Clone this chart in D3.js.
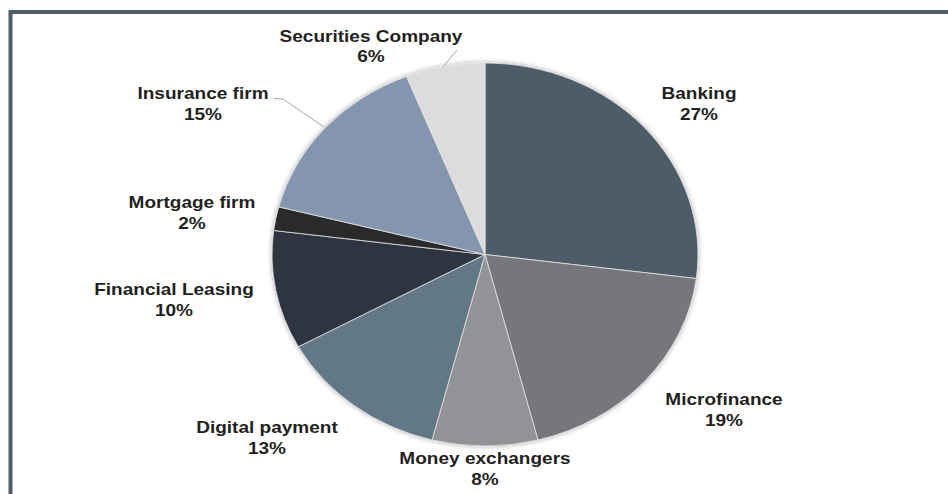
<!DOCTYPE html>
<html>
<head>
<meta charset="utf-8">
<script src="https://cdn.jsdelivr.net/npm/d3@7"></script>
<style>
  html, body { margin: 0; padding: 0; background: #fff; }
  svg { display: block; }
  text { font-family: "Liberation Sans", Arial, sans-serif; font-weight: bold; }
</style>
</head>
<body>
<svg id="chart" width="948" height="494"></svg>
<script>
// Share of fintech activity by sector (percent)
const categories = ["Banking", "Microfinance", "Money exchangers", "Digital payment",
                    "Financial Leasing", "Mortgage firm", "Insurance firm", "Securities Company"];
const values = [27, 19, 8, 13, 10, 2, 15, 6];
const colors = ["#4e5b68", "#76777b", "#929396", "#627886",
                "#2e3640", "#2b2a2b", "#8396ae", "#dcdcdf"];

// Label anchors (centre x, first baseline) in page pixels
const labelPos = [
  [699, 99], [724, 405], [485, 464], [267, 433],
  [174, 295], [192, 208], [203, 99], [371, 41.5]
];
// Leader lines for the two labels that sit away from their slices
const leaders = [
  { index: 7, pts: [[457, 50], [443, 67]] },
  { index: 6, pts: [[274, 98.5], [283, 99], [324, 127]] }
];

const W = 948, H = 494;
const cx = 485, cy = 254.5;
const ry = 191.5, rx = 213;
const sx = rx / ry;

const svg = d3.select("#chart");

// Frame
svg.append("rect")
  .attr("x", 10.5).attr("y", 12)
  .attr("width", W).attr("height", H)
  .attr("fill", "none")
  .attr("stroke", "#4f5b68")
  .attr("stroke-width", 4);

const defs = svg.append("defs");
const f = defs.append("filter").attr("id", "shadow")
  .attr("x", "-10%").attr("y", "-10%").attr("width", "120%").attr("height", "120%");
f.append("feDropShadow")
  .attr("dx", 0).attr("dy", 0)
  .attr("stdDeviation", 2.5)
  .attr("flood-color", "#000")
  .attr("flood-opacity", 0.35);

const pie = d3.pie().sort(null).value(d => d)(values);
const arc = d3.arc().innerRadius(0).outerRadius(ry);

const g = svg.append("g")
  .attr("transform", `translate(${cx},${cy}) scale(${sx},1)`);

g.append("g").attr("filter", "url(#shadow)")
  .selectAll("path")
  .data(pie)
  .join("path")
  .attr("d", arc)
  .attr("fill", (d, i) => colors[i])
  .attr("stroke", "#e4e4e4")
  .attr("stroke-width", 0.8)
  .attr("vector-effect", "non-scaling-stroke");

// Leader lines
const line = d3.line();
svg.selectAll("path.leader")
  .data(leaders)
  .join("path")
  .attr("class", "leader")
  .attr("d", d => line(d.pts))
  .attr("fill", "none")
  .attr("stroke", "#a6a6a6")
  .attr("stroke-width", 1);

// Labels: category name over percentage
const labels = svg.selectAll("g.label")
  .data(pie)
  .join("g")
  .attr("class", "label")
  .attr("transform", (d, i) => `translate(${labelPos[i][0]},${labelPos[i][1]}) scale(1.12,1)`);

const t = labels.append("text")
  .attr("text-anchor", "middle")
  .attr("fill", "#231f20")
  .attr("font-size", 17);
t.append("tspan").attr("x", 0).attr("y", 0).text((d, i) => categories[i]);
t.append("tspan").attr("x", 0).attr("y", 21).text(d => d3.format(".0f")(d.data) + "%");
</script>
</body>
</html>
